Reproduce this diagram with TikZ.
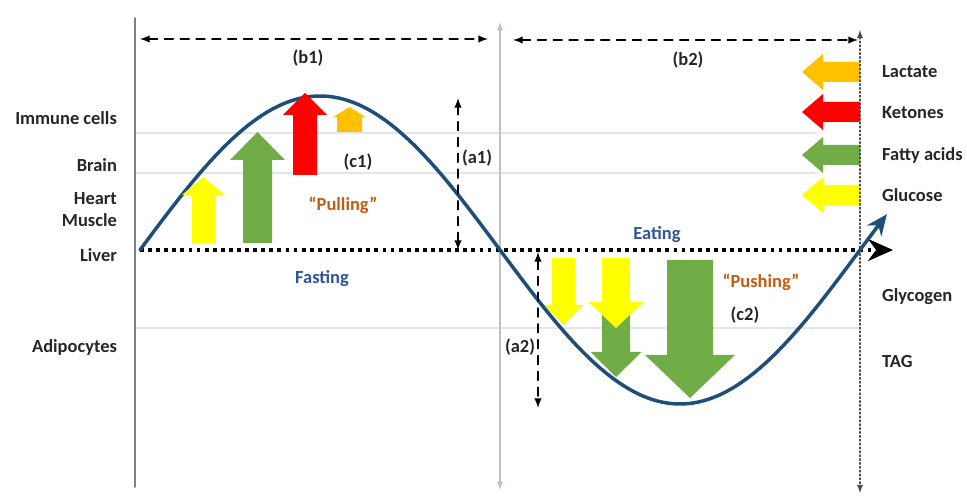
\documentclass[tikz,border=0pt]{standalone}
\usepackage{fontspec}
\setmainfont{Carlito}
\usetikzlibrary{arrows.meta}

\definecolor{curveblue}{RGB}{31,78,121}
\definecolor{glcyellow}{RGB}{255,255,0}
\definecolor{fagreen}{RGB}{112,173,71}
\definecolor{ketred}{RGB}{255,0,0}
\definecolor{lacorange}{RGB}{255,192,0}
\definecolor{pullbrown}{RGB}{197,90,17}
\definecolor{phaseblue}{RGB}{47,85,151}
\definecolor{lblgray}{RGB}{38,38,38}
\definecolor{gridgray}{RGB}{228,230,230}
\definecolor{midgray}{RGB}{200,190,192}

\begin{document}
\begin{tikzpicture}[line cap=round,line join=round,>=latex,
  lbl/.style={font=\fontsize{10.5}{12.5}\selectfont\bfseries,text=lblgray,inner sep=1pt},
  phase/.style={lbl,text=phaseblue},
  force/.style={lbl,text=pullbrown},
  dim/.style={line width=0.9pt,dash pattern=on 5pt off 4pt,latex-latex},
  grid line/.style={line width=0.6pt,gridgray}]
  \useasboundingbox (0,-5) rectangle (19.34,5);

  % faint level lines
  \draw[grid line] (2.7,2.34) -- (16.3,2.34);
  \draw[grid line] (2.7,1.54) -- (16.3,1.54);
  \draw[grid line] (2.7,-1.56) -- (17.2,-1.56);

  % axes
  \draw[line width=1pt,gray] (2.7,4.64) -- (2.7,-4.74);
  \draw[line width=0.6pt,midgray,latex-latex] (10.0,4.56) -- (10.0,-4.8);

  % flux arrows on the right
  \foreach \yy/\col in {3.56/lacorange,2.76/ketred,1.90/fagreen,1.10/glcyellow}
    \fill[\col] (17.2,{\yy-0.2}) -- (16.46,{\yy-0.2}) -- (16.46,{\yy-0.36}) -- (16.04,\yy)
      -- (16.46,{\yy+0.36}) -- (16.46,{\yy+0.2}) -- (17.2,{\yy+0.2}) -- cycle;
  \draw[line width=0.6pt,gray!60!black,dash pattern=on 1pt off 1.2pt,latex-latex] (17.2,4.4) -- (17.2,-4.86);

  % storage arrows (eating)
  \foreach \cx/\yb/\yh/\yt/\sw/\hw/\col in {
      13.80/-0.20/-2.10/-2.96/0.46/0.90/fagreen,
      12.32/-1.00/-2.04/-2.54/0.28/0.51/fagreen,
      12.32/-0.16/-1.04/-1.56/0.28/0.55/glcyellow,
      11.27/-0.16/-1.10/-1.50/0.23/0.40/glcyellow}
    \fill[\col] ({\cx-\sw},\yb) -- ({\cx-\sw},\yh) -- ({\cx-\hw},\yh) -- (\cx,\yt)
      -- ({\cx+\hw},\yh) -- ({\cx+\sw},\yh) -- ({\cx+\sw},\yb) -- cycle;

  % liver baseline
  \draw[line width=2pt,line cap=butt,dash pattern=on 2.2pt off 2.4pt,-{Stealth[length=5mm,width=4.4mm]}] (2.8,0) -- (17.86,0);

  % fasting / eating cycle
  \draw[curveblue,line width=2pt,-{Stealth[open,length=4.2mm,width=3.6mm]}]
    plot[domain=2.8:17.74,samples=120,smooth] (\x,{3.08*sin(25*(\x-2.8))});

  % release arrows (fasting)
  \foreach \cx/\yb/\yh/\yt/\sw/\hw/\col in {
      4.07/0.14/1.10/1.46/0.23/0.43/glcyellow,
      5.15/0.14/1.80/2.36/0.29/0.55/fagreen,
      6.10/1.50/2.70/3.14/0.24/0.44/ketred,
      6.99/2.36/2.66/2.86/0.25/0.32/lacorange}
    \fill[\col] ({\cx-\sw},\yb) -- ({\cx-\sw},\yh) -- ({\cx-\hw},\yh) -- (\cx,\yt)
      -- ({\cx+\hw},\yh) -- ({\cx+\sw},\yh) -- ({\cx+\sw},\yb) -- cycle;

  % periods and amplitudes
  \coordinate (b1w) at (2.8,4.22);
  \coordinate (b1e) at (9.76,4.22);
  \coordinate (b2w) at (10.26,4.2);
  \coordinate (b2e) at (17.16,4.2);
  \coordinate (a1b) at (9.16,0);
  \coordinate (a1t) at (9.16,3.04);
  \coordinate (a2t) at (10.76,-0.04);
  \coordinate (a2b) at (10.76,-3.16);
  \draw[dim] (b1w) -- (b1e);
  \draw[dim] (b2w) -- (b2e);
  \draw[dim] (a1b) -- (a1t);
  \draw[dim] (a2t) -- (a2b);

  \node[lbl] (b1) at (6.16,3.84) {(b1)};
  \node[lbl] (b2) at (13.76,3.8) {(b2)};
  \node[lbl] (a1) at (9.54,1.84) {(a1)};
  \node[lbl] (a2) at (10.4,-1.94) {(a2)};
  \node[lbl] (c1) at (7.16,1.76) {(c1)};
  \node[lbl] (c2) at (14.9,-1.3) {(c2)};
  \node[force] (pull) at (6.86,0.9) {``Pulling''};
  \node[force] (push) at (15.22,-0.64) {``Pushing''};
  \node[phase] (fast) at (6.44,-0.58) {Fasting};
  \node[phase] (eat) at (13.14,0.3) {Eating};

  % tissues
  \node[lbl,anchor=east] (immune) at (2.38,2.64) {Immune cells};
  \node[lbl,anchor=east] (brain) at (2.38,1.7) {Brain};
  \node[lbl,anchor=east,align=right] (heart) at (2.38,0.8) {Heart\\Muscle};
  \node[lbl,anchor=east] (liver) at (2.38,-0.1) {Liver};
  \node[lbl,anchor=east] (adipo) at (2.38,-1.94) {Adipocytes};

  % fuels and stores
  \node[lbl,anchor=west] (lac) at (17.6,3.56) {Lactate};
  \node[lbl,anchor=west] (ket) at (17.6,2.74) {Ketones};
  \node[lbl,anchor=west] (fa) at (17.6,1.9) {Fatty acids};
  \node[lbl,anchor=west] (glc) at (17.6,1.1) {Glucose};
  \node[lbl,anchor=west] (glyc) at (17.6,-0.94) {Glycogen};
  \node[lbl,anchor=west] (tag) at (17.6,-2.24) {TAG};
\end{tikzpicture}
\end{document}
